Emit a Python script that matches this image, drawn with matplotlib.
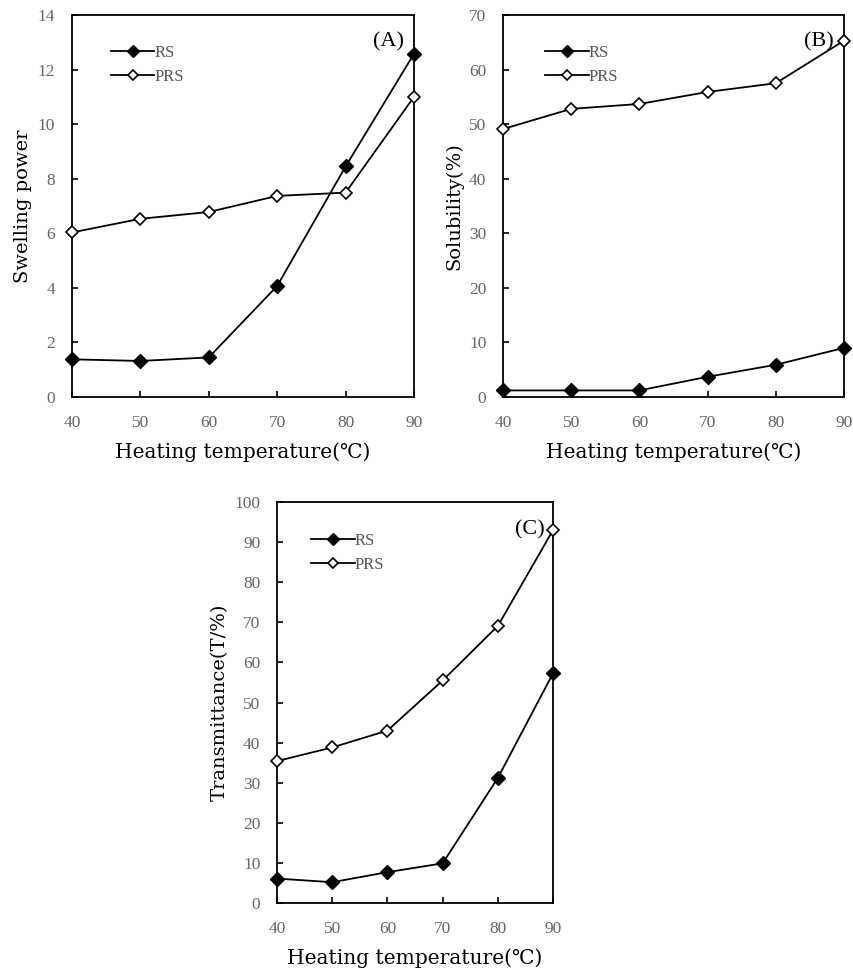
import matplotlib.pyplot as plt

temps = [40, 50, 60, 70, 80, 90]

# (A) swelling power
swell_rs = [1.38, 1.32, 1.45, 4.07, 8.45, 12.58]
swell_prs = [6.03, 6.53, 6.78, 7.37, 7.49, 11.0]

# (B) solubility
sol_rs = [1.2, 1.2, 1.2, 3.7, 5.9, 9.0]
sol_prs = [49.1, 52.8, 53.7, 55.9, 57.5, 65.3]

# (C) transmittance
tr_rs = [6.1, 5.2, 7.7, 9.9, 31.2, 57.3]
tr_prs = [35.4, 38.8, 43.0, 55.5, 69.1, 93.0]

plt.rcParams['font.family'] = ['Liberation Serif', 'DejaVu Serif']
label_font = ['DejaVu Serif', 'Noto Sans CJK KR']

fig = plt.figure(figsize=(8.54, 9.68), dpi=100)


def panel(rect, rs, prs, ymax, ystep, ylabel, tag, leg_anchor):
    ax = fig.add_axes(rect)
    ax.plot(temps, rs, color='black', lw=1.3, marker='D', ms=7,
            mfc='black', mec='black', label='RS', clip_on=False, zorder=3)
    ax.plot(temps, prs, color='black', lw=1.3, marker='D', ms=6.5,
            mfc='white', mec='black', mew=1.2, label='PRS', clip_on=False, zorder=3)
    ax.set_xlim(40, 90)
    ax.set_ylim(0, ymax)
    ax.set_xticks(temps)
    ax.set_yticks(range(0, ymax + 1, ystep))
    ax.tick_params(direction='in', length=4, width=1.2, labelsize=12.5,
                   labelcolor='#666666', pad=13)
    ax.tick_params(axis='y', pad=12)
    for s in ax.spines.values():
        s.set_linewidth(1.3)
    ax.set_xlabel('Heating temperature(℃)', family=label_font, fontsize=14.5,
                  labelpad=8)
    ax.set_ylabel(ylabel, family=label_font, fontsize=14, labelpad=4)
    ax.text(0.97, 0.93, tag, transform=ax.transAxes, ha='right', va='center',
            fontsize=16)
    ax.legend(loc='upper left', bbox_to_anchor=leg_anchor, frameon=False,
              fontsize=12, handlelength=2.6, handletextpad=0.0,
              labelspacing=0.45, labelcolor='#555555', markerscale=0.85)
    return ax


panel([0.0843, 0.5899, 0.4005, 0.3946], swell_rs, swell_prs, 14, 2,
      'Swelling power', '(A)', (0.07, 0.96))
panel([0.589, 0.5899, 0.3993, 0.3946], sol_rs, sol_prs, 70, 10,
      'Solubility(%)', '(B)', (0.08, 0.96))
panel([0.3244, 0.0671, 0.3232, 0.4143], tr_rs, tr_prs, 100, 10,
      'Transmittance(T/%)', '(C)', (0.07, 0.96))

fig.savefig('out.png', dpi=100)
